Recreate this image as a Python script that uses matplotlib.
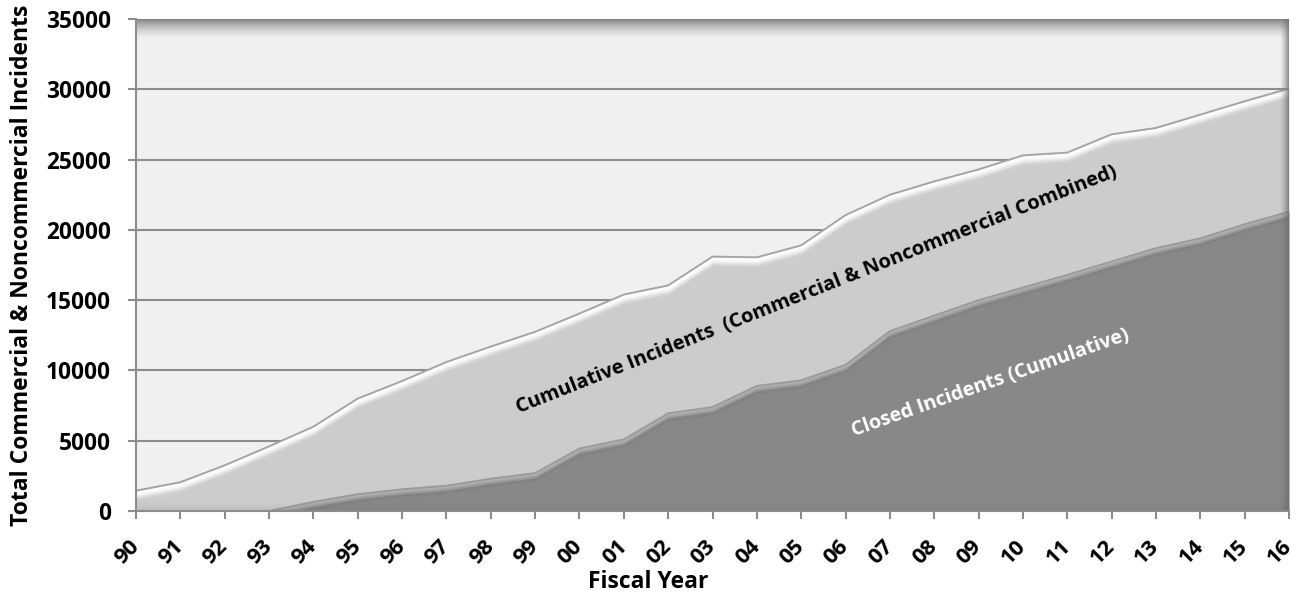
import numpy as np
import matplotlib
matplotlib.use("Agg")
import matplotlib.pyplot as plt
from matplotlib.transforms import offset_copy

# Fiscal years (two-digit) and cumulative counts of incidents
fiscal_years = ['90', '91', '92', '93', '94', '95', '96', '97', '98', '99',
                '00', '01', '02', '03', '04', '05', '06', '07', '08', '09',
                '10', '11', '12', '13', '14', '15', '16']
cumulative_incidents = [1450, 2050, 3250, 4600, 6000, 8000, 9250, 10600, 11700,
                        12750, 14050, 15400, 16050, 18100, 18050, 18900, 21050,
                        22500, 23450, 24300, 25300, 25500, 26800, 27250, 28200,
                        29150, 30050]
closed_incidents = [0, 0, 0, 0, 650, 1200, 1550, 1800, 2300, 2700, 4450, 5100,
                    6950, 7400, 8900, 9300, 10400, 12800, 13900, 15000, 15900,
                    16800, 17750, 18700, 19400, 20400, 21300]
y_ticks = [0, 5000, 10000, 15000, 20000, 25000, 30000, 35000]

plt.rcParams['font.family'] = ['Open Sans', 'DejaVu Sans']
plt.rcParams['font.weight'] = 'bold'

W, H = 1299, 595
fig = plt.figure(figsize=(W / 100, H / 100), dpi=100)
ax = fig.add_axes([136 / W, 1 - 511 / H, (1289 - 136) / W, (511 - 19) / H])
ax.set_facecolor('#f0f0f0')

x = np.arange(len(fiscal_years))

# Total incidents behind, closed incidents in front
ax.fill_between(x, 0, cumulative_incidents, color='#cccccc', lw=0, zorder=2)
ax.fill_between(x, 0, closed_incidents, color='#888888', lw=0, zorder=3)


def bevel(values, color, steps, z):
    for dy, alpha in steps:
        tr = offset_copy(ax.transData, fig=fig, x=0, y=-dy, units='dots')
        ax.plot(x, values, color=color, alpha=alpha, lw=1.4, transform=tr,
                zorder=z, solid_joinstyle='round')


# soft highlight just under the top edge of each area
bevel(cumulative_incidents, 'white',
      [(2, 0.95), (3.5, 0.9), (5, 0.7), (6.5, 0.45), (8, 0.22), (9.5, 0.08)], 4)
ax.plot(x, cumulative_incidents, color='#a3a3a3', lw=1.3, zorder=5)

bevel(closed_incidents, '#b4b4b4',
      [(1.5, 0.9), (3, 0.6), (4.5, 0.3)], 6)
bevel(closed_incidents, '#777777', [(6.5, 0.25), (8, 0.12)], 6)
ax.plot(x, closed_incidents, color='#9a9a9a', lw=1.3, zorder=7)

# shading along the top, right and bottom edges of the plot area
n = 64
top = np.zeros((n, 1, 4))
top[..., :3] = 0.5
top[:, 0, 3] = np.linspace(1, 0, n) ** 1.5 * 0.95
ax.imshow(top, extent=(0, 1, 1 - 20 / 492, 1), transform=ax.transAxes,
          aspect='auto', interpolation='bilinear', zorder=8)

right = np.zeros((1, n, 4))
right[..., :3] = 0.42
right[0, :, 3] = np.linspace(0, 1, n) ** 1.6 * 0.8
ax.imshow(right, extent=(1 - 10 / 1153, 1, 0, 1), transform=ax.transAxes,
          aspect='auto', interpolation='bilinear', zorder=8)

floor = np.zeros((n, 1, 4))
floor[..., :3] = 0.3
floor[:, 0, 3] = np.linspace(0, 1, n) ** 2 * 0.12
ax.imshow(floor, extent=(0, 1, 0, 12 / 492), transform=ax.transAxes,
          aspect='auto', interpolation='bilinear', zorder=8)

# axes, ticks and grid
ax.set_yticks(y_ticks, [str(v) for v in y_ticks])
ax.set_xticks(x, fiscal_years, rotation=45, ha='right', va='center',
              rotation_mode='anchor')
ax.yaxis.grid(True, color='#8c8c8c', lw=1.5)
ax.set_axisbelow(True)
ax.tick_params(axis='both', direction='out', length=6, width=1.5,
               color='#8c8c8c', labelsize=16.3, labelcolor='black')
ax.tick_params(axis='x', pad=17, labelsize=15.8)
ax.tick_params(axis='y', pad=12)
for side in ('top', 'right'):
    ax.spines[side].set_visible(False)
for side in ('left', 'bottom'):
    ax.spines[side].set_color('#8c8c8c')
    ax.spines[side].set_linewidth(1.5)
    ax.spines[side].set_zorder(10)

ax.set_xlim(0, len(fiscal_years) - 1)
ax.set_ylim(0, 35000)

# series labels written across the areas
ax.text(15.36, 15720, 'Cumulative Incidents  (Commercial & Noncommercial Combined)',
        rotation=21.6, rotation_mode='anchor', ha='center', va='center',
        fontsize=14.4, color='black', zorder=9)
ax.text(19.28, 9105, 'Closed Incidents (Cumulative)',
        rotation=19.3, rotation_mode='anchor', ha='center', va='center',
        fontsize=14.2, color='white', zorder=9)

fig.text(648 / W, 1 - 582 / H, 'Fiscal Year', ha='center', va='center',
         fontsize=16.5)
fig.text(22 / W, 1 - 265 / H, 'Total Commercial & Noncommercial Incidents',
         rotation=90, ha='center', va='center', fontsize=16.5)

fig.savefig('out.png', dpi=100, facecolor='white')
